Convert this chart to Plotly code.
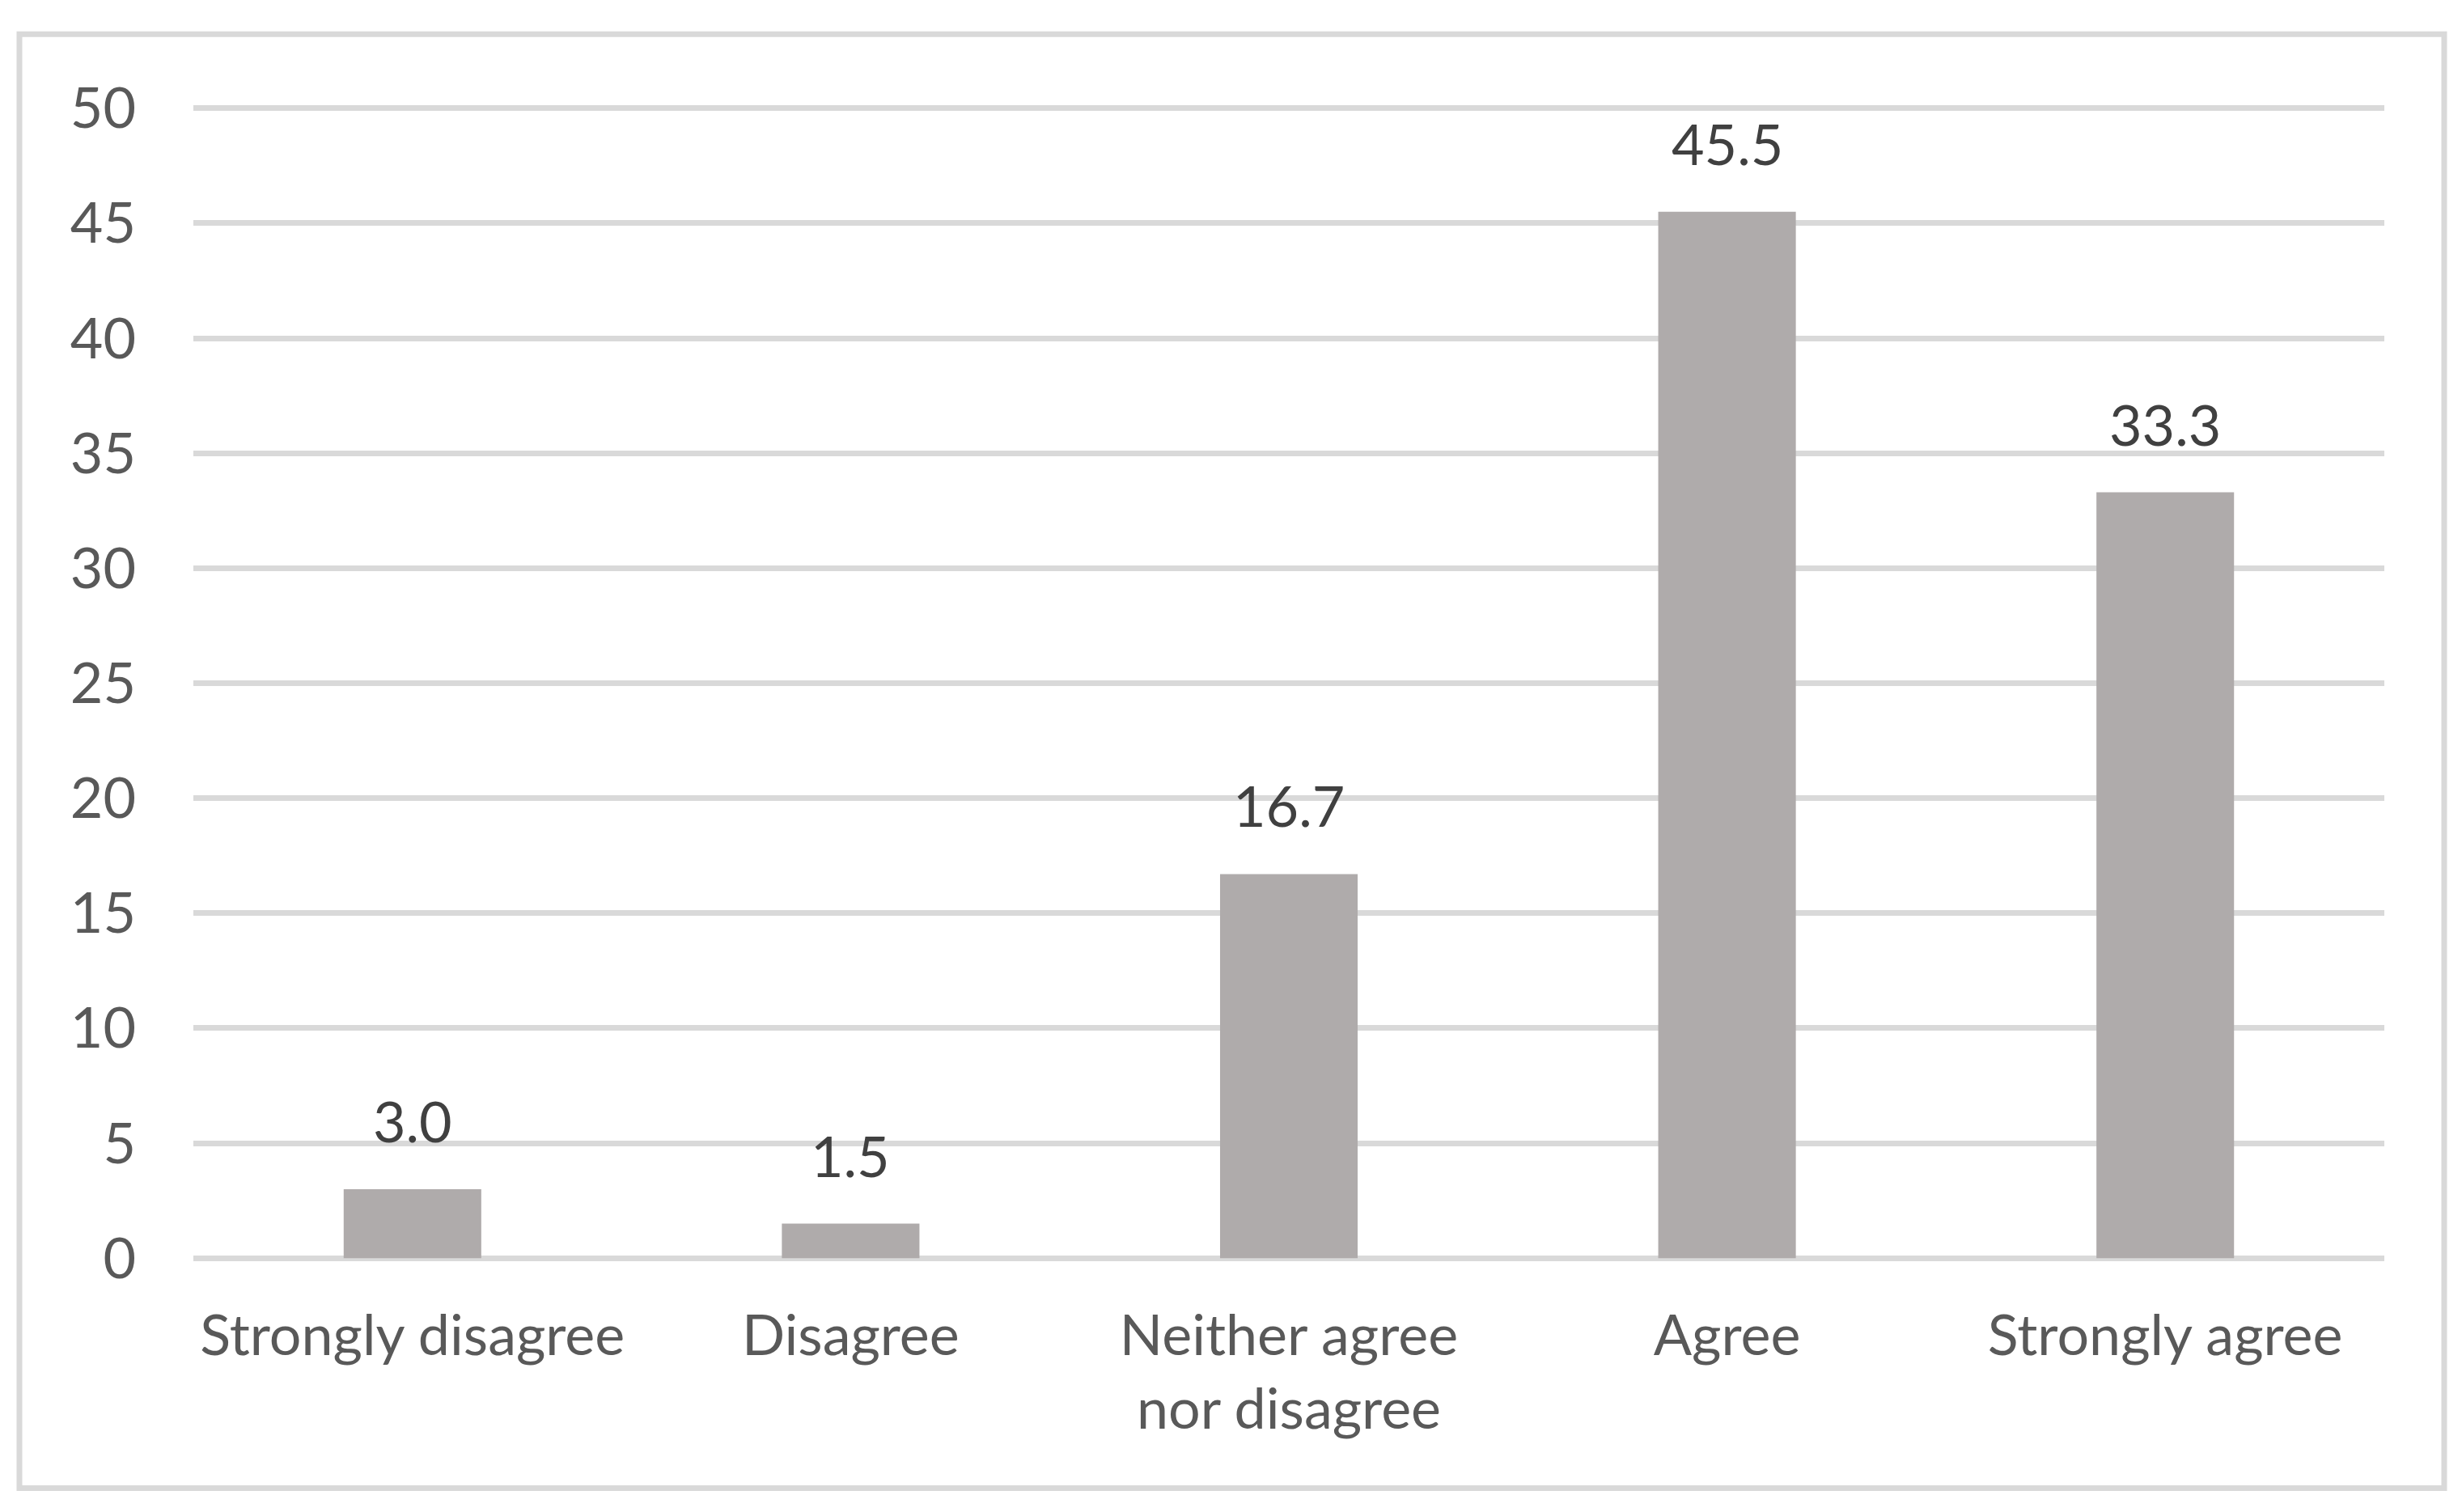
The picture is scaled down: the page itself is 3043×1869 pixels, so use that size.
import plotly.graph_objects as go

categories = ["Strongly disagree", "Disagree", "Neither agree<br>nor disagree", "Agree", "Strongly agree"]
values = [3.0, 1.5, 16.7, 45.5, 33.3]
y_ticks = [0, 5, 10, 15, 20, 25, 30, 35, 40, 45, 50]

FONT = "Lato"
W, H = 3043, 1869
PAD = 0.1
PPU = 1421.5 / 50.0
L, R = 239, 96
T = 133.5 - PAD * PPU
B = 314 - PAD * PPU
pw = W - L - R
ph = H - T - B

fig = go.Figure()
fig.add_trace(go.Bar(
    x=categories, y=values,
    marker=dict(color="#AFABAB", line=dict(width=0)),
    width=0.314,
    hoverinfo="skip",
))

for c, v in zip(categories, values):
    fig.add_annotation(
        x=c, y=v, text=f"{v:.1f}", showarrow=False,
        yanchor="bottom", yshift=41,
        font=dict(family=FONT, size=70, color="#404040"),
    )

def px_x(p):
    return (p - L) / pw

def px_y(p):
    return (H - B - p) / ph

fig.add_shape(
    type="rect", xref="paper", yref="paper",
    x0=px_x(24), x1=px_x(3021), y0=px_y(1839.5), y1=px_y(42),
    line=dict(color="#D9D9D9", width=7), fillcolor="rgba(0,0,0,0)",
    layer="below",
)

fig.update_layout(
    width=W, height=H,
    margin=dict(l=L, r=R, t=T, b=B, pad=0),
    paper_bgcolor="white", plot_bgcolor="white",
    showlegend=False,
    font=dict(family=FONT, size=70, color="#595959"),
    xaxis=dict(
        showgrid=False, zeroline=False, showline=False, ticks="",
        tickfont=dict(family=FONT, size=70, color="#595959"),
        ticklabelstandoff=46,
    ),
    yaxis=dict(
        range=[-PAD, 50 + PAD], tickvals=y_ticks, ticktext=[str(t) for t in y_ticks],
        showgrid=True, gridcolor="#D9D9D9", gridwidth=7,
        zeroline=False, showline=False, ticks="",
        tickfont=dict(family=FONT, size=70, color="#595959"),
        ticklabelstandoff=70,
    ),
)

fig.write_html(
    "out.html",
    config={"displayModeBar": False},
    post_script="document.body.style.margin='0';document.body.style.padding='0';",
)
